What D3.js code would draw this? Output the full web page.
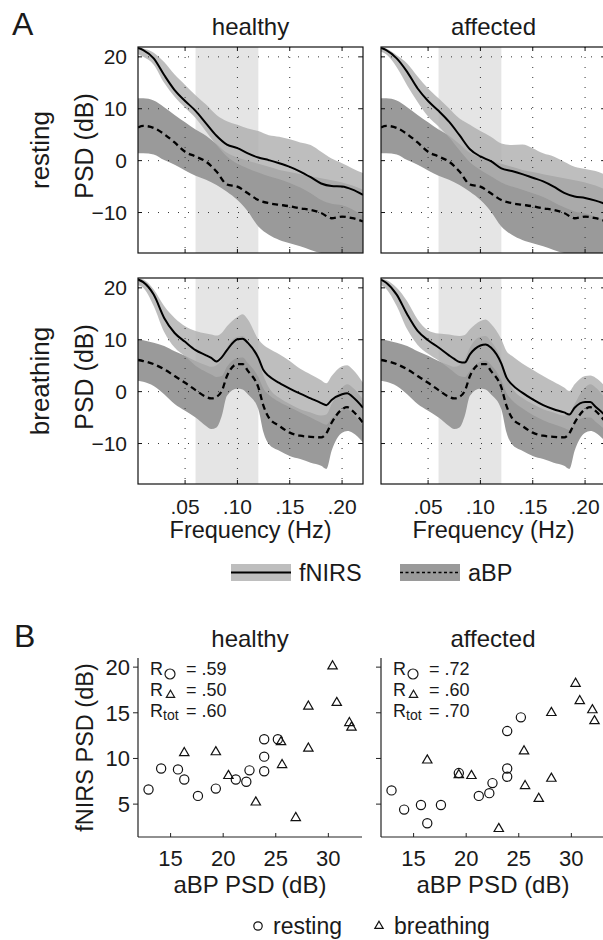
<!DOCTYPE html>
<html>
<head>
<meta charset="utf-8">
<script src="https://cdn.jsdelivr.net/npm/d3@7"></script>
<style>
  body { margin: 0; background: #fff; }
  text { font-family: "Liberation Sans", Arial, sans-serif; fill: #1a1a1a; }
</style>
</head>
<body>
<svg id="fig" width="603" height="940"></svg>
<script>
// ---- panel A data (PSD in dB) ----
var freqRest = [0.005,0.01,0.02,0.03,0.04,0.05,0.06,0.07,0.08,0.09,0.10,0.11,0.12,0.13,0.14,0.15,0.16,0.17,0.18,0.19,0.20,0.21,0.22];
var freqBreath = [0.005,0.01,0.02,0.03,0.04,0.05,0.06,0.07,0.075,0.08,0.085,0.09,0.10,0.105,0.11,0.12,0.125,0.13,0.14,0.15,0.16,0.17,0.18,0.185,0.19,0.20,0.205,0.21,0.22];

var nirsRestHealthy   = [21.7,21.3,19.7,16.5,13.6,11.5,9.6,7.2,4.8,3.1,2.4,1.4,0.6,0.1,-0.5,-1.2,-2.1,-3.2,-4.4,-4.9,-5.0,-5.6,-6.6];
var nirsRestHealthyHi = [21.8,21.6,20.8,19.0,16.6,14.6,12.6,10.8,8.8,7.6,6.9,6.2,5.7,4.9,4.6,4.1,3.5,3.0,1.7,0.4,-0.5,-1.5,-2.4];
var nirsRestHealthyLo = [20.5,20.0,18.5,15.0,12.3,10.2,8.2,5.6,3.0,0.8,-0.6,-1.5,-2.3,-3.0,-3.6,-4.3,-5.2,-6.3,-7.6,-8.3,-8.6,-9.4,-10.6];

var nirsRestAffected   = [21.7,21.3,19.7,17.1,13.9,11.5,9.6,7.5,4.9,2.2,0.8,-0.1,-1.5,-2.0,-2.6,-3.3,-4.0,-5.0,-6.2,-6.9,-7.2,-7.7,-8.4];
var nirsRestAffectedHi = [21.8,21.6,20.3,18.7,16.2,13.9,12.0,10.1,8.1,6.9,5.7,4.6,3.3,3.0,3.1,2.4,1.4,0.8,-0.2,-1.2,-1.6,-2.0,-2.8];
var nirsRestAffectedLo = [21.0,20.5,18.0,14.5,11.3,8.5,6.6,4.5,2.0,-0.3,-1.8,-3.0,-4.2,-5.0,-5.6,-6.3,-7.0,-8.0,-9.0,-9.8,-10.2,-10.8,-11.6];

var abpRest   = [6.4,6.7,6.3,5.1,3.5,1.7,0.8,-0.2,-2.1,-4.6,-5.0,-6.3,-7.6,-8.2,-8.5,-8.8,-9.2,-9.5,-10.1,-11.1,-10.8,-11.1,-11.7];
var abpRestHi = [12.0,12.0,11.6,10.3,8.8,7.4,6.0,4.8,3.2,1.5,0.6,0.0,-0.6,-1.2,-1.8,-2.2,-2.6,-3.0,-3.4,-3.8,-4.2,-4.8,-5.6];
var abpRestLo = [1.4,1.4,1.2,0.1,-0.8,-1.9,-2.9,-3.7,-4.7,-6.0,-7.6,-9.8,-12.7,-14.3,-15.3,-15.9,-16.5,-17.2,-17.8,-18.1,-18.8,-19.0,-19.4];

var nirsBreathHealthy   = [21.6,21.1,18.7,14.2,11.3,9.6,8.0,7.0,6.5,5.8,6.6,8.0,10.1,10.2,9.4,6.5,4.1,3.0,1.7,0.6,-0.4,-1.3,-2.2,-2.6,-1.6,-0.5,-0.3,-1.0,-3.1];
var nirsBreathHealthyHi = [21.8,21.6,19.7,16.5,14.2,12.6,11.7,11.2,11.0,10.8,11.3,12.6,14.4,14.9,13.9,10.1,9.0,8.3,7.2,5.9,4.4,3.3,2.2,1.6,3.0,4.9,5.1,4.3,1.7];
var nirsBreathHealthyLo = [20.5,20.0,16.5,11.5,8.5,6.8,5.0,3.8,3.3,2.8,3.0,4.8,6.5,6.6,5.5,2.8,0.5,-0.6,-2.0,-3.0,-4.0,-5.0,-6.0,-6.4,-5.2,-3.6,-3.4,-4.2,-6.6];

var nirsBreathAffected   = [21.6,21.0,18.7,14.9,11.7,9.9,8.5,7.0,6.3,5.7,5.6,7.2,8.9,9.1,8.5,5.4,2.7,1.4,-0.2,-1.5,-2.6,-3.4,-4.0,-4.4,-3.1,-2.0,-2.0,-2.9,-4.7];
var nirsBreathAffectedHi = [21.8,21.5,20.0,17.4,13.9,11.8,11.2,11.0,10.8,10.7,10.9,12.0,13.6,13.9,13.1,10.1,7.8,6.9,5.4,4.2,3.0,1.9,0.8,0.1,1.4,3.0,3.1,2.7,0.8];
var nirsBreathAffectedLo = [20.5,19.8,16.5,12.0,9.0,7.3,6.0,4.5,3.7,3.0,2.8,4.0,5.8,6.0,5.2,2.2,-0.3,-1.6,-3.2,-4.5,-5.5,-6.3,-7.0,-7.4,-6.2,-5.0,-5.0,-5.8,-7.5];

var abpBreath   = [6.1,5.9,5.3,4.3,3.0,1.7,0.3,-1.0,-1.3,-1.0,0.1,3.0,5.3,5.3,4.0,0.8,-2.8,-5.0,-6.6,-7.9,-8.5,-8.7,-8.8,-8.0,-6.0,-3.4,-3.0,-3.7,-6.0];
var abpBreathHi = [10.1,9.9,9.4,8.8,7.8,6.9,5.9,5.1,4.8,5.1,6.2,8.5,10.6,10.7,9.7,6.2,3.0,0.8,-1.2,-2.4,-3.4,-4.0,-4.6,-4.4,-2.4,0.8,1.4,0.8,-1.5];
var abpBreathLo = [2.1,1.9,1.1,-0.5,-2.4,-3.7,-5.0,-6.6,-7.2,-6.9,-4.7,-0.8,0.6,0.4,-0.5,-3.4,-7.9,-10.1,-11.4,-12.4,-13.0,-13.7,-14.3,-14.9,-11.4,-7.9,-7.6,-7.9,-9.8];

var freqTicks = [0.05, 0.10, 0.15, 0.20];
var freqTickLabels = [".05", ".10", ".15", ".20"];
var psdTicks = [-10, 0, 10, 20];
var psdTickLabels = ["\u221210", "0", "10", "20"];

// ---- panel B data ----
var abpRestPts   = [12.9,14.1,15.7,16.3,17.6,19.3,21.2,22.2,22.5,23.9,23.9,23.9,25.2];
var nirsRestPtsHealthy  = [6.6,8.9,8.8,7.7,5.9,6.7,7.7,7.45,8.7,12.1,10.2,8.6,12.1];
var nirsRestPtsAffected = [6.5,4.4,4.9,2.9,4.9,8.4,5.9,6.2,7.3,13.0,8.9,8.0,14.5];
var abpBreathPts = [16.3,19.3,20.5,23.1,25.5,25.6,26.9,28.1,28.1,30.4,30.8,32.0,32.2];
var nirsBreathPtsHealthy  = [10.6,10.7,8.1,5.2,11.8,9.3,3.5,11.1,15.7,20.1,16.1,13.9,13.4];
var nirsBreathPtsAffected = [9.8,8.2,8.1,2.3,10.8,7.0,5.6,7.8,15.0,18.2,16.3,15.3,14.1];
var corrHealthy  = [".59", ".50", ".60"];
var corrAffected = [".72", ".60", ".70"];
var abpTicks = [15, 20, 25, 30];
var nirsTicks = [5, 10, 15, 20];

var svg = d3.select("#fig");

// ================= panel A =================
var panelW = 225, panelH = 206;
var colX = [138, 381], rowY = [47, 278];
var xF = d3.scaleLinear().domain([0.005, 0.22]).range([0, panelW]);
var yP = d3.scaleLinear().domain([-17.8, 21.9]).range([panelH, 0]);

function zipBand(freq, lo, hi) {
    return freq.map(function (f, i) { return { f: f, lo: lo[i], hi: hi[i] }; });
}
function zipLine(freq, v) {
    return freq.map(function (f, i) { return { f: f, v: v[i] }; });
}

var panels = [
    { c: 0, r: 0, freq: freqRest, nm: nirsRestHealthy, nl: nirsRestHealthyLo, nh: nirsRestHealthyHi, am: abpRest, al: abpRestLo, ah: abpRestHi },
    { c: 1, r: 0, freq: freqRest, nm: nirsRestAffected, nl: nirsRestAffectedLo, nh: nirsRestAffectedHi, am: abpRest, al: abpRestLo, ah: abpRestHi },
    { c: 0, r: 1, freq: freqBreath, nm: nirsBreathHealthy, nl: nirsBreathHealthyLo, nh: nirsBreathHealthyHi, am: abpBreath, al: abpBreathLo, ah: abpBreathHi },
    { c: 1, r: 1, freq: freqBreath, nm: nirsBreathAffected, nl: nirsBreathAffectedLo, nh: nirsBreathAffectedHi, am: abpBreath, al: abpBreathLo, ah: abpBreathHi }
];

var area = d3.area()
    .x(function (d) { return xF(d.f); })
    .y0(function (d) { return yP(d.lo); })
    .y1(function (d) { return yP(d.hi); })
    .curve(d3.curveMonotoneX);
var line = d3.line()
    .x(function (d) { return xF(d.f); })
    .y(function (d) { return yP(d.v); })
    .curve(d3.curveMonotoneX);

panels.forEach(function (p, k) {
    var g = svg.append("g")
        .attr("transform", "translate(" + colX[p.c] + "," + rowY[p.r] + ")");

    g.append("clipPath").attr("id", "clipA" + k)
        .append("rect").attr("width", panelW).attr("height", panelH);

    var inner = g.append("g").attr("clip-path", "url(#clipA" + k + ")");
    // frequency band of interest
    inner.append("rect")
        .attr("x", xF(0.06)).attr("width", xF(0.12) - xF(0.06))
        .attr("y", 0).attr("height", panelH)
        .attr("fill", "#e5e5e5");

    inner.append("path")
        .datum(zipBand(p.freq, p.al, p.ah))
        .attr("d", area)
        .attr("fill", "#9a9a9a");
    inner.append("path")
        .datum(zipBand(p.freq, p.nl, p.nh))
        .attr("d", area)
        .attr("fill", "rgb(174,174,174)")
        .attr("fill-opacity", 0.8);

    // dotted grid
    inner.selectAll(".gx").data(freqTicks).enter().append("line")
        .attr("x1", function (d) { return xF(d); }).attr("x2", function (d) { return xF(d); })
        .attr("y1", 0).attr("y2", panelH)
        .attr("stroke", "#333").attr("stroke-width", 1).attr("stroke-dasharray", "1,9");
    inner.selectAll(".gy").data(psdTicks).enter().append("line")
        .attr("y1", function (d) { return yP(d); }).attr("y2", function (d) { return yP(d); })
        .attr("x1", 0).attr("x2", panelW)
        .attr("stroke", "#333").attr("stroke-width", 1).attr("stroke-dasharray", "1,9");

    inner.append("path")
        .datum(zipLine(p.freq, p.am))
        .attr("d", line)
        .attr("fill", "none").attr("stroke", "#000")
        .attr("stroke-width", 2.3).attr("stroke-dasharray", "6,4");
    inner.append("path")
        .datum(zipLine(p.freq, p.nm))
        .attr("d", line)
        .attr("fill", "none").attr("stroke", "#000").attr("stroke-width", 2);

    // box + inward ticks
    g.append("rect").attr("width", panelW).attr("height", panelH)
        .attr("fill", "none").attr("stroke", "#111").attr("stroke-width", 1.2);
    freqTicks.forEach(function (t) {
        g.append("line").attr("x1", xF(t)).attr("x2", xF(t)).attr("y1", panelH).attr("y2", panelH - 4).attr("stroke", "#111");
        g.append("line").attr("x1", xF(t)).attr("x2", xF(t)).attr("y1", 0).attr("y2", 4).attr("stroke", "#111");
    });
    psdTicks.forEach(function (t) {
        g.append("line").attr("y1", yP(t)).attr("y2", yP(t)).attr("x1", 0).attr("x2", 4).attr("stroke", "#111");
        g.append("line").attr("y1", yP(t)).attr("y2", yP(t)).attr("x1", panelW).attr("x2", panelW - 4).attr("stroke", "#111");
    });

    if (p.c === 0) {
        g.selectAll(".yl").data(psdTicks).enter().append("text")
            .attr("x", -11).attr("y", function (d) { return yP(d); })
            .attr("dy", "0.36em").attr("text-anchor", "end")
            .style("font-size", "21px")
            .text(function (d, i) { return psdTickLabels[i]; });
        g.append("text")
            .attr("transform", "translate(-45," + (panelH / 2 - 4) + ") rotate(-90)")
            .attr("text-anchor", "middle").style("font-size", "25px")
            .text("PSD (dB)");
        g.append("text")
            .attr("transform", "translate(-89," + (panelH / 2) + ") rotate(-90)")
            .attr("text-anchor", "middle").style("font-size", "26px")
            .text(p.r === 0 ? "resting" : "breathing");
    }
    if (p.r === 1) {
        g.selectAll(".xl").data(freqTicks).enter().append("text")
            .attr("x", function (d) { return xF(d); }).attr("y", panelH + 30)
            .attr("text-anchor", "middle").style("font-size", "21px")
            .text(function (d, i) { return freqTickLabels[i]; });
        g.append("text")
            .attr("x", panelW / 2).attr("y", panelH + 54)
            .attr("text-anchor", "middle").style("font-size", "23.5px")
            .text("Frequency (Hz)");
    }
    if (p.r === 0) {
        g.append("text")
            .attr("x", panelW / 2).attr("y", -12)
            .attr("text-anchor", "middle").style("font-size", "24px")
            .text(p.c === 0 ? "healthy" : "affected");
    }
});

svg.append("text").attr("x", 12).attr("y", 35).style("font-size", "32px").text("A");

// legend for A
var legA = [
    { x: 231, fill: "rgb(190,190,190)", dash: null, w: 2, label: "fNIRS" },
    { x: 400, fill: "#9a9a9a", dash: "3,2.5", w: 1.6, label: "aBP" }
];
legA.forEach(function (d) {
    svg.append("rect").attr("x", d.x).attr("y", 564).attr("width", 60).attr("height", 17).attr("fill", d.fill);
    svg.append("line").attr("x1", d.x).attr("x2", d.x + 60).attr("y1", 572.5).attr("y2", 572.5)
        .attr("stroke", "#000").attr("stroke-width", d.w).attr("stroke-dasharray", d.dash);
    svg.append("text").attr("x", d.x + 68).attr("y", 581).style("font-size", "23.5px").text(d.label);
});

// ================= panel B =================
var sW = 224, sH = 179;
var sX = [138, 381], sY = 658;
var xA = d3.scaleLinear().domain([11.9, 33.2]).range([0, sW]);
var yN = d3.scaleLinear().domain([1.4, 21]).range([sH, 0]);
var triangle = d3.symbol().type(d3.symbolTriangle).size(38);
var triangleSmall = d3.symbol().type(d3.symbolTriangle).size(30);

var scatters = [
    { c: 0, title: "healthy", rest: nirsRestPtsHealthy, breath: nirsBreathPtsHealthy, corr: corrHealthy },
    { c: 1, title: "affected", rest: nirsRestPtsAffected, breath: nirsBreathPtsAffected, corr: corrAffected }
];

scatters.forEach(function (s) {
    var g = svg.append("g").attr("transform", "translate(" + sX[s.c] + "," + sY + ")");

    g.append("line").attr("x1", 0).attr("x2", 0).attr("y1", 0).attr("y2", sH).attr("stroke", "#222").attr("stroke-width", 1.2);
    g.append("line").attr("x1", 0).attr("x2", sW).attr("y1", sH).attr("y2", sH).attr("stroke", "#222").attr("stroke-width", 1.2);
    nirsTicks.forEach(function (t) {
        g.append("line").attr("x1", -5).attr("x2", 0).attr("y1", yN(t)).attr("y2", yN(t)).attr("stroke", "#222");
    });
    abpTicks.forEach(function (t) {
        g.append("line").attr("x1", xA(t)).attr("x2", xA(t)).attr("y1", sH).attr("y2", sH - 4).attr("stroke", "#222");
        g.append("text").attr("x", xA(t)).attr("y", sH + 29)
            .attr("text-anchor", "middle").style("font-size", "22px").text(t);
    });
    if (s.c === 0) {
        nirsTicks.forEach(function (t) {
            g.append("text").attr("x", -8).attr("y", yN(t)).attr("dy", "0.36em")
                .attr("text-anchor", "end").style("font-size", "22px").text(t);
        });
        g.append("text")
            .attr("transform", "translate(-45," + (sH / 2) + ") rotate(-90)")
            .attr("text-anchor", "middle").style("font-size", "23.5px")
            .text("fNIRS PSD (dB)");
    }
    g.append("text").attr("x", sW / 2).attr("y", sH + 56)
        .attr("text-anchor", "middle").style("font-size", "24px").text("aBP PSD (dB)");
    g.append("text").attr("x", sW / 2).attr("y", -11)
        .attr("text-anchor", "middle").style("font-size", "24px").text(s.title);

    // correlation text
    var rows = [17, 38, 59];
    rows.forEach(function (yy, i) {
        g.append("text").attr("x", 12).attr("y", yy).style("font-size", "18px").text("R");
        g.append("text").attr("x", 48).attr("y", yy).style("font-size", "18px").text("= " + s.corr[i]);
    });
    g.append("circle").attr("cx", 32).attr("cy", 16).attr("r", 5)
        .attr("fill", "none").attr("stroke", "#1a1a1a").attr("stroke-width", 1.2);
    g.append("path").attr("d", triangleSmall).attr("transform", "translate(32.5,37)")
        .attr("fill", "none").attr("stroke", "#1a1a1a").attr("stroke-width", 1.2);
    g.append("text").attr("x", 25).attr("y", 62).style("font-size", "14px").text("tot");

    // markers
    g.selectAll(".rest").data(abpRestPts).enter().append("circle")
        .attr("cx", function (d) { return xA(d); })
        .attr("cy", function (d, i) { return yN(s.rest[i]); })
        .attr("r", 4.6).attr("fill", "none").attr("stroke", "#111").attr("stroke-width", 1.2);
    g.selectAll(".breath").data(abpBreathPts).enter().append("path")
        .attr("d", triangle)
        .attr("transform", function (d, i) { return "translate(" + xA(d) + "," + yN(s.breath[i]) + ")"; })
        .attr("fill", "none").attr("stroke", "#111").attr("stroke-width", 1.2);
});

svg.append("text").attr("x", 14).attr("y", 647).style("font-size", "32px").text("B");

// legend for B
svg.append("circle").attr("cx", 258).attr("cy", 926).attr("r", 4.2)
    .attr("fill", "none").attr("stroke", "#111").attr("stroke-width", 1.2);
svg.append("text").attr("x", 273).attr("y", 934).style("font-size", "23px").text("resting");
svg.append("path").attr("d", triangleSmall).attr("transform", "translate(379,926)")
    .attr("fill", "none").attr("stroke", "#111").attr("stroke-width", 1.2);
svg.append("text").attr("x", 394).attr("y", 934).style("font-size", "23px").text("breathing");
</script>
</body>
</html>
